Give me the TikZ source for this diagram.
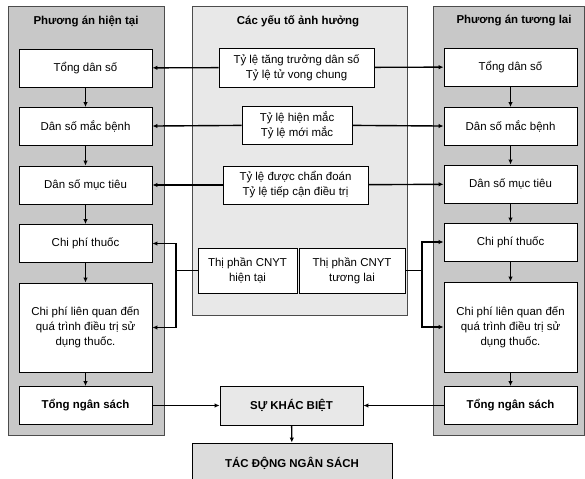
\documentclass[tikz,border=0pt]{standalone}
\usepackage{fontspec}
\setmainfont{Liberation Sans}
\usetikzlibrary{arrows.meta,positioning}
\definecolor{sidegray}{RGB}{200,200,200}
\definecolor{midgray}{RGB}{232,232,232}
\tikzset{
  panel/.style={draw=black!70, line width=0.9pt, inner sep=0pt},
  box/.style={draw, fill=white, line width=0.9pt, align=center, inner sep=2pt,
    font=\fontsize{11.5}{15}\selectfont},
  sbox/.style={box, minimum width=133bp, minimum height=38bp},
  title/.style={font=\fontsize{11.5}{14}\selectfont\bfseries},
  link/.style={line width=1.4bp},
  arr/.style={link, -{Latex[length=5pt,width=4.5pt]}}
}
\begin{document}
\begin{tikzpicture}[x=1bp,y=-1bp]
  \useasboundingbox (0,0) rectangle (585,479);
  % panels
  \node[panel, fill=sidegray, minimum width=156bp, minimum height=429bp] (pl) at (86,220.5) {};
  \node[panel, fill=midgray, minimum width=215bp, minimum height=309bp] (pm) at (299.5,160.5) {};
  \node[panel, fill=sidegray, minimum width=151bp, minimum height=429bp] (pr) at (508.5,220.5) {};
  \node[title] (tl) at (86,21) {Phương án hiện tại};
  \node[title] (tm) at (298,21) {Các yếu tố ảnh hưởng};
  \node[title] (tr) at (514,21) {Phương án tương lai};
  % left column
  \node[sbox] (l1) at (85.5,68) {Tổng dân số};
  \node[sbox] (l2) at (85.5,126.5) {Dân số mắc bệnh};
  \node[sbox] (l3) at (85.5,185) {Dân số mục tiêu};
  \node[sbox] (l4) at (85.5,243.5) {Chi phí thuốc};
  \node[sbox, minimum height=89bp] (l5) at (85.5,327.5) {Chi phí liên quan đến\\quá trình điều trị sử\\dụng thuốc.};
  \node[sbox, font=\fontsize{11.5}{15}\selectfont\bfseries] (l6) at (85.5,405.5) {Tổng ngân sách};
  % right column
  \node[sbox] (r1) at (510.5,67) {Tổng dân số};
  \node[sbox] (r2) at (510.5,126.5) {Dân số mắc bệnh};
  \node[sbox] (r3) at (510.5,184) {Dân số mục tiêu};
  \node[sbox] (r4) at (510.5,242) {Chi phí thuốc};
  \node[sbox, minimum height=90bp] (r5) at (510.5,327) {Chi phí liên quan đến\\quá trình điều trị sử\\dụng thuốc.};
  \node[sbox, font=\fontsize{11.5}{15}\selectfont\bfseries] (r6) at (510.5,405.5) {Tổng ngân sách};
  % factors
  \node[box, minimum width=155bp, minimum height=39bp] (f1) at (296.5,67.5) {Tỷ lệ tăng trưởng dân số\\Tỷ lệ tử vong chung};
  \node[box, minimum width=110bp, minimum height=38bp] (f2) at (297,125) {Tỷ lệ hiện mắc\\Tỷ lệ mới mắc};
  \node[box, minimum width=145bp, minimum height=38bp] (f3) at (295.5,185) {Tỷ lệ được chẩn đoán\\Tỷ lệ tiếp cận điều trị};
  \node[box, minimum width=99bp, minimum height=45bp] (f4) at (247.5,270.5) {Thị phần CNYT\\hiện tại};
  \node[box, minimum width=106bp, minimum height=45bp] (f5) at (352,270.5) {Thị phần CNYT\\tương lai};
  % result
  \node[box, fill=midgray, minimum width=143bp, minimum height=39bp,
    font=\fontsize{11.5}{15}\selectfont\bfseries] (diff) at (291.5,405.5) {SỰ KHÁC BIỆT};
  \node[box, fill=midgray!95!black, minimum width=200bp, minimum height=40bp,
    font=\fontsize{11.5}{15}\selectfont\bfseries] (impact) at (292,463) {TÁC ĐỘNG NGÂN SÁCH};
  % flows down the columns
  \foreach \a/\b in {1/2,2/3,3/4,4/5,5/6}{
    \draw[arr] (l\a) -- (l\b);
    \draw[arr] (r\a) -- (r\b);
  }
  % factors to both scenarios
  \foreach \i in {1,2,3}{
    \draw[arr] (f\i) -- (l\i);
    \draw[arr] (f\i) -- (r\i);
  }
  \coordinate (jl) at (176,270.5);
  \coordinate (jr) at (422,270.5);
  \draw[link] (f4.west) -- (jl);
  \draw[arr] (jl) |- (l4);
  \draw[arr] (jl) |- (l5);
  \draw[link] (f5.east) -- (jr);
  \draw[arr] (jr) |- (r4);
  \draw[arr] (jr) |- (r5);
  % budget difference
  \draw[arr] (l6) -- (diff);
  \draw[arr] (r6) -- (diff);
  \draw[arr] (diff) -- (impact);
\end{tikzpicture}
\end{document}
